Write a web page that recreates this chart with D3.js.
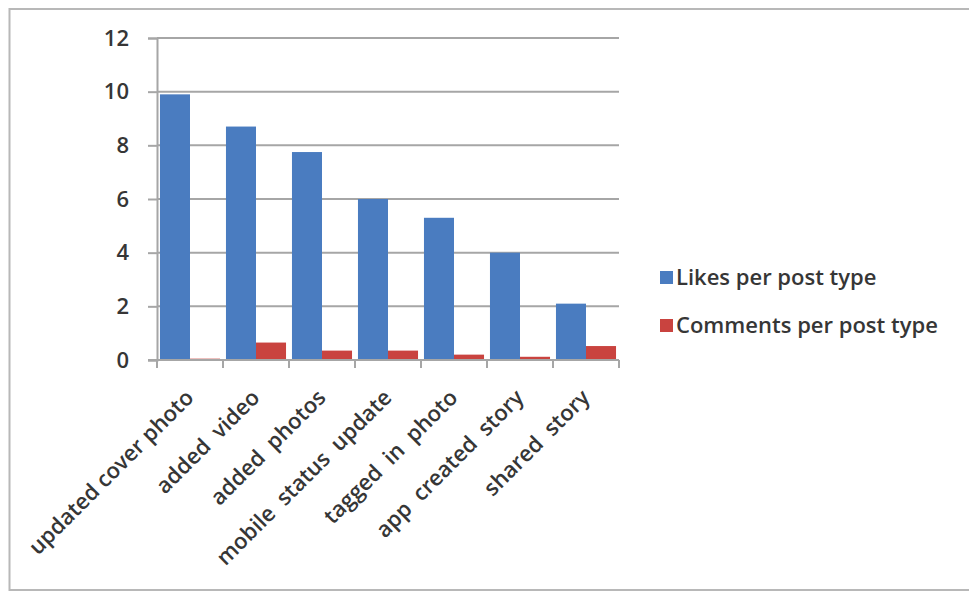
<!DOCTYPE html>
<html>
<head>
<meta charset="utf-8">
<script src="https://cdn.jsdelivr.net/npm/d3@7"></script>
<style>
  html, body { margin: 0; padding: 0; background: #fff; }
  svg { display: block; }
  text { font-family: "Open Sans", "Noto Sans", sans-serif; fill: #363636; font-weight: 600; }
</style>
</head>
<body>
<svg id="chart" width="969" height="592"></svg>
<script>
// Post types and average engagement per type
const categories = [
  "updated cover photo",
  "added  video",
  "added  photos",
  "mobile  status  update",
  "tagged  in  photo",
  "app  created  story",
  "shared  story"
];
const likes    = [9.9, 8.7, 7.75, 6.0, 5.3, 4.0, 2.1];
const comments = [0.05, 0.65, 0.35, 0.35, 0.2, 0.12, 0.52];
const seriesNames = ["Likes per post type", "Comments per post type"];
const seriesColors = ["#4a7cc0", "#c9433f"];
const yTicks = [0, 2, 4, 6, 8, 10, 12];

const svg = d3.select("#chart");

// outer frame
svg.append("rect")
  .attr("x", 9.5).attr("y", 9)
  .attr("width", 980).attr("height", 581)
  .attr("fill", "none").attr("stroke", "#b8b8b8").attr("stroke-width", 2);

const plot = { left: 157, right: 619, top: 38, bottom: 360 };

const x = d3.scaleBand()
  .domain(categories)
  .range([plot.left, plot.right])
  .paddingInner(0.09).paddingOuter(0.045);

const xSeries = d3.scaleBand()
  .domain(seriesNames)
  .range([0, x.bandwidth()]);

const y = d3.scaleLinear().domain([0, 12]).range([plot.bottom, plot.top]);

// horizontal gridlines
svg.append("g").selectAll("line")
  .data(yTicks.filter(d => d > 0))
  .join("line")
  .attr("x1", plot.left).attr("x2", plot.right)
  .attr("y1", d => y(d)).attr("y2", d => y(d))
  .attr("stroke", "#a6a6a6").attr("stroke-width", 2);

// y axis
const yAxis = svg.append("g")
  .attr("transform", `translate(${plot.left},0)`)
  .call(d3.axisLeft(y).tickValues(yTicks).tickSize(9).tickPadding(19));
yAxis.select(".domain").attr("stroke", "#a6a6a6").attr("stroke-width", 2);
yAxis.selectAll(".tick line").attr("stroke", "#a6a6a6").attr("stroke-width", 2);
yAxis.selectAll(".tick text")
  .attr("font-size", 22)
  .style("font-family", "'Open Sans', sans-serif")
  .style("font-weight", 600)
  .attr("fill", "#363636");

// bars
const groups = svg.append("g").selectAll("g")
  .data(categories)
  .join("g")
  .attr("transform", d => `translate(${x(d)},0)`);

groups.append("rect")
  .attr("x", xSeries(seriesNames[0]))
  .attr("width", xSeries.bandwidth())
  .attr("y", (d, i) => y(likes[i]))
  .attr("height", (d, i) => y(0) - y(likes[i]))
  .attr("fill", seriesColors[0]);

groups.append("rect")
  .attr("x", xSeries(seriesNames[1]))
  .attr("width", xSeries.bandwidth())
  .attr("y", (d, i) => y(comments[i]))
  .attr("height", (d, i) => y(0) - y(comments[i]))
  .attr("fill", seriesColors[1]);

// x axis line with category boundary ticks
const step = (plot.right - plot.left) / categories.length;
const xEdges = d3.range(categories.length + 1).map(i => plot.left + i * step);
svg.append("line")
  .attr("x1", plot.left - 9).attr("x2", plot.right)
  .attr("y1", plot.bottom).attr("y2", plot.bottom)
  .attr("stroke", "#a6a6a6").attr("stroke-width", 2);
svg.append("g").selectAll("line")
  .data(xEdges)
  .join("line")
  .attr("x1", d => d).attr("x2", d => d)
  .attr("y1", plot.bottom).attr("y2", plot.bottom + 8)
  .attr("stroke", "#a6a6a6").attr("stroke-width", 2);

// rotated category labels
svg.append("g").selectAll("text")
  .data(categories)
  .join("text")
  .attr("transform", d => `translate(${x(d) + x.bandwidth() / 2 + 5},${plot.bottom + 39}) rotate(-45)`)
  .attr("text-anchor", "end")
  .attr("font-size", 22)
  .style("white-space", "pre")
  .text(d => d);

// legend
const legend = svg.append("g").selectAll("g")
  .data(seriesNames)
  .join("g")
  .attr("transform", (d, i) => `translate(660,${277 + i * 48})`);
legend.append("rect")
  .attr("x", 0).attr("y", -6)
  .attr("width", 13).attr("height", 13)
  .attr("fill", (d, i) => seriesColors[i]);
legend.append("text")
  .attr("x", 16).attr("y", 0)
  .attr("dy", "0.35em")
  .attr("font-size", 22)
  .text(d => d);
</script>
</body>
</html>
